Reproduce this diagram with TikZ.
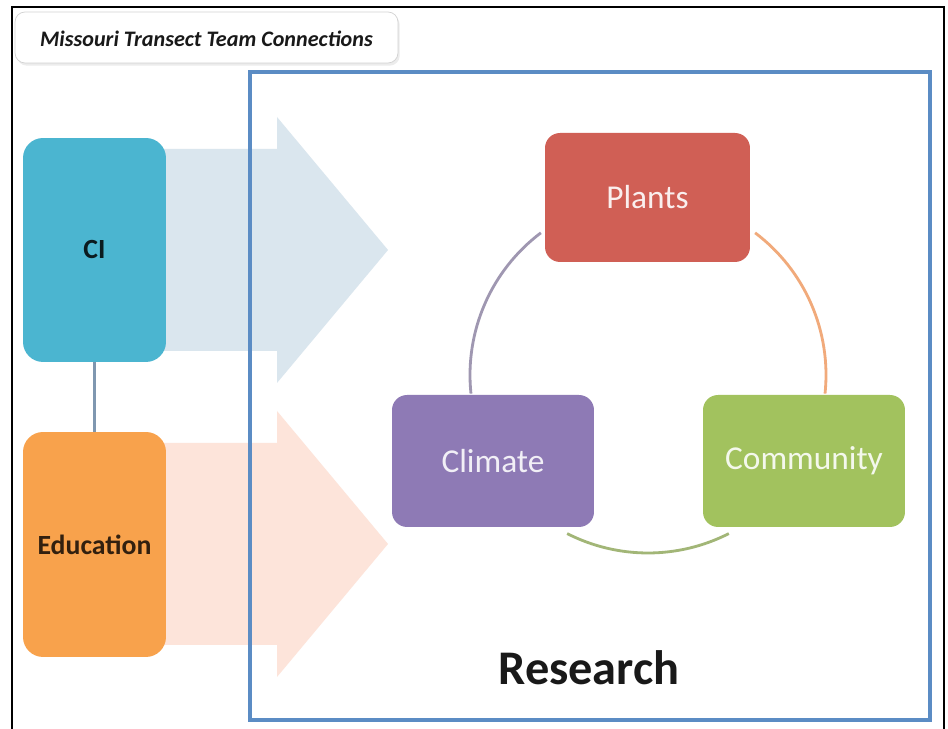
\documentclass[tikz,border=0pt]{standalone}
\usepackage{fontspec}
\setmainfont{Carlito}
\usetikzlibrary{shapes}
\usetikzlibrary{positioning}
\usetikzlibrary{shadows}

\definecolor{ciblue}{HTML}{4BB5D0}
\definecolor{eduorange}{HTML}{F8A24C}
\definecolor{plantred}{HTML}{D05F55}
\definecolor{climpurple}{HTML}{8E7AB5}
\definecolor{commgreen}{HTML}{A2C25E}
\definecolor{framebl}{HTML}{5B8CC4}
\definecolor{arrowbl}{HTML}{DAE6EE}
\definecolor{arrowpe}{HTML}{FDE4DA}
\definecolor{linkgray}{HTML}{7F97B0}

\tikzset{
    sidenodeb/.style = {rectangle, rounded corners=0.4cm, fill=ciblue, minimum width=2.86cm, minimum height=4.48cm, align=center, inner sep=0pt, font=\bfseries\fontsize{15.8}{18}\selectfont, text=black!85!ciblue},
    sidenodeo/.style = {rectangle, rounded corners=0.4cm, fill=eduorange, minimum width=2.86cm, minimum height=4.5cm, align=center, inner sep=0pt, font=\bfseries\fontsize{15.8}{18}\selectfont, text=black!80!eduorange},
    topicnoder/.style = {rectangle, rounded corners=0.3cm, fill=plantred, minimum width=4.1cm, minimum height=2.58cm, align=center, inner sep=0pt, font=\fontsize{19}{22}\selectfont, text=white!90!plantred},
    topicnodep/.style = {rectangle, rounded corners=0.3cm, fill=climpurple, minimum width=4.04cm, minimum height=2.64cm, align=center, inner sep=0pt, font=\fontsize{19}{22}\selectfont, text=white!88!climpurple},
    topicnodeg/.style = {rectangle, rounded corners=0.3cm, fill=commgreen, minimum width=4.04cm, minimum height=2.64cm, align=center, inner sep=0pt, font=\fontsize{19}{22}\selectfont, text=white!88!commgreen},
    titlenode/.style = {rectangle, rounded corners=0.2cm, draw=gray!35, fill=white, minimum width=7.66cm, minimum height=1.02cm, drop shadow={opacity=0.15, shadow xshift=1pt, shadow yshift=-1.5pt}},
    edgen/.style = {-, line width=1.2pt, color=linkgray},
    edgep/.style = {-, line width=1.6pt, color=climpurple!55!gray!80},
    edgeo/.style = {-, line width=1.6pt, color=eduorange!70!plantred!75},
    edgeg/.style = {-, line width=1.6pt, color=commgreen!70!gray!90},
    bigarrow/.style = {draw=none},
}

\begin{document}
\begin{tikzpicture}[x=0.02cm,y=0.02cm]
\useasboundingbox (0,0) rectangle (948,729);
\fill[white] (0,0) rectangle (948,729);

% page frame, open at the bottom
\draw[line width=1.4pt] (12,0) -- (12,722) -- (944,722) -- (944,0);

% heading
\node[titlenode] at (206.5,691.5) (head) {};
\node[font=\bfseries\itshape\fontsize{12.6}{14}\selectfont, text=black!90] at (206.5,690) (headtext) {Missouri Transect Team Connections};

% wide arrows into the research area
\fill[bigarrow, arrowbl] (160,580) -- (277,580) -- (277,612) -- (388,479) -- (277,346) -- (277,378) -- (160,378) -- cycle;
\fill[bigarrow, arrowpe] (160,286) -- (277,286) -- (277,318) -- (388,185) -- (277,52) -- (277,84) -- (160,84) -- cycle;

% research frame
\draw[line width=2.8pt, framebl] (250,9) rectangle (930,657);

%
\node[sidenodeb] at (94.5,479) (ci) {CI};
\node[sidenodeo] at (94.5,184.5) (edu) {Education};
\draw[edgen] (ci.south) -- (edu.north);

%
\coordinate (hub) at (648,354);
\draw[edgep] (hub) ++(127:178) arc[start angle=127, end angle=186, radius=178];
\draw[edgeo] (hub) ++(53:178) arc[start angle=53, end angle=-6, radius=178];
\draw[edgeg] (hub) ++(243:178) arc[start angle=243, end angle=297, radius=178];

\node[topicnoder] at (647.5,531.5) (plants) {Plants};
\node[topicnodep] at (493,268) (climate) {Climate};
\node[topicnodeg] at (804,268) (community) {Community};

\node[font=\bfseries\fontsize{27.5}{32}\selectfont, text=black!90] at (589,61) (research) {Research};

\end{tikzpicture}
\end{document}
